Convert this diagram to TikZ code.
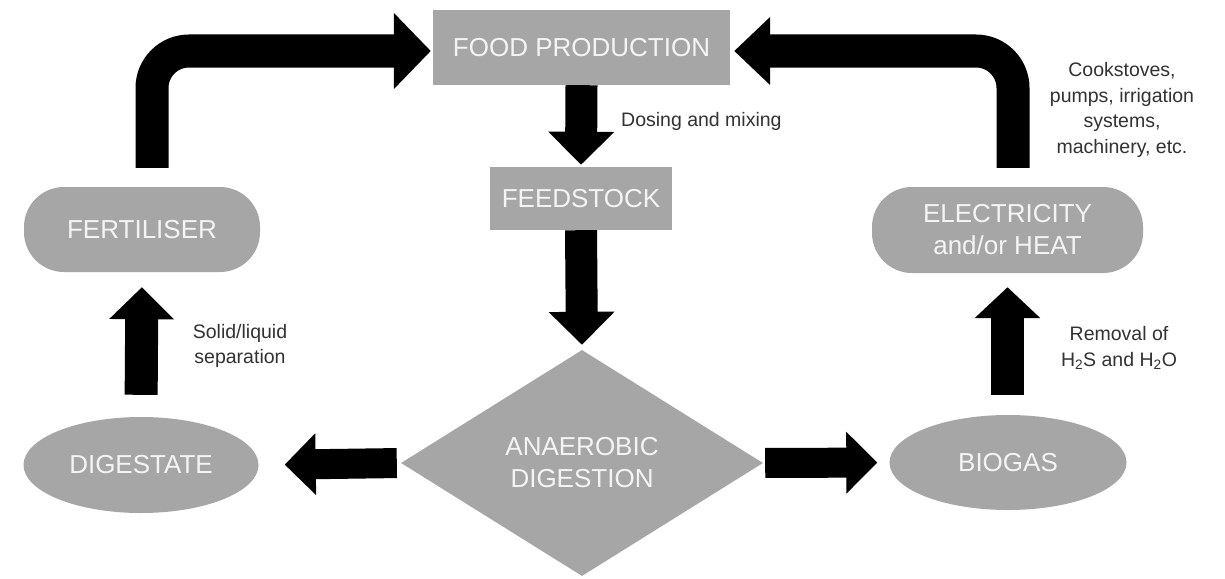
\documentclass[tikz,border=0pt]{standalone}
\usepackage{fontspec}
\setmainfont{Liberation Sans}
\usetikzlibrary{shapes.geometric,arrows.meta,calc}
\definecolor{boxgrey}{RGB}{166,166,166}
\definecolor{boxtext}{RGB}{244,244,244}
\definecolor{labeltext}{RGB}{50,50,50}
\begin{document}
\begin{tikzpicture}[x=1pt,y=-1pt,
  base/.style={fill=boxgrey, text=boxtext, draw=none, inner sep=0pt, align=center,
    font=\fontsize{26}{32}\selectfont},
  rectbox/.style={base, rectangle},
  stadium/.style={base, rectangle, rounded corners=40pt},
  oval/.style={base, ellipse},
  rhomb/.style={base, diamond, aspect=1.6},
  lbl/.style={text=labeltext, inner sep=0pt, font=\fontsize{19.5}{25.5}\selectfont},
  bigarrow/.style={draw=black, line width=32pt, -{Triangle[length=33pt,width=64pt]}},
  sidearrow/.style={draw=black, line width=30pt, -{Triangle[length=31pt,width=60pt]}},
  bentarrow/.style={draw=black, line width=33pt, rounded corners=37pt}
]
\useasboundingbox (0,0) rectangle (1225,578);
\fill[white] (0,0) rectangle (1225,578);

% nodes
\node[rectbox, minimum width=297pt, minimum height=75pt] (food) at (581.5,47.5) {FOOD PRODUCTION};
\node[rectbox, minimum width=182pt, minimum height=63pt] (feed) at (581,198.5) {FEEDSTOCK};
\node[rhomb, minimum width=362pt, minimum height=226pt] (ad) at (582,463) {ANAEROBIC\\DIGESTION};
\node[oval, minimum width=235pt, minimum height=96pt] (dig) at (141,465) {DIGESTATE};
\node[oval, minimum width=237pt, minimum height=95pt] (bio) at (1008,462.5) {BIOGAS};
\node[stadium, minimum width=236pt, minimum height=85pt] (fert) at (142,229.5) {FERTILISER};
\node[stadium, minimum width=271pt, minimum height=86pt] (elec) at (1007.5,230) {ELECTRICITY\\and/or HEAT};

% labels
\node[lbl, anchor=west] (dosing) at (621,121) {Dosing and mixing};
\node[lbl, align=center] (uses) at (1122,110) {Cookstoves,\\pumps, irrigation\\systems,\\machinery, etc.};
\node[lbl, align=center] (solid) at (240,346) {Solid/liquid\\separation};
\node[lbl, align=center] (removal) at (1119,348) {Removal of\\H\textsubscript{2}S and H\textsubscript{2}O};

% straight arrows
\draw[bigarrow, shorten >=2pt] (food.south) -- (feed.north);
\draw[bigarrow, shorten >=5pt] (feed.south) -- (ad.north);
\draw[sidearrow, shorten <=4pt, shorten >=26pt] (ad.west) -- (dig.east);
\draw[sidearrow, shorten <=2pt, shorten >=12pt] (ad.east) -- (bio.west);
\draw[draw=black, line width=33pt, -{Triangle[length=32pt,width=63pt]}, shorten <=22pt, shorten >=15pt] (dig.north) -- (fert.south);
\draw[draw=black, line width=33pt, -{Triangle[length=31pt,width=64pt]}, shorten <=20pt, shorten >=14pt] (bio.north -| elec.south) -- (elec.south);

% bent arrows
\coordinate (fstart) at ($(fert.north)+(10,-19)$);
\coordinate (estart) at ($(elec.north)+(5.5,-19)$);
\draw[bentarrow, -{Triangle[length=37pt,width=74pt]}, shorten >=2pt]
  (fstart) |- ($(food.west)+(0,3.5)$);
\draw[bentarrow, -{Triangle[length=36pt,width=66pt]}, shorten >=4pt]
  (estart) |- ($(food.east)+(0,3.5)$);
\end{tikzpicture}
\end{document}
